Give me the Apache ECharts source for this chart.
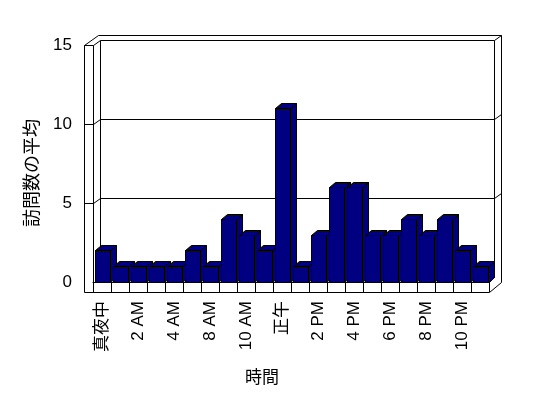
<!DOCTYPE html>
<html>
<head>
<meta charset="utf-8">
<script src="https://cdn.jsdelivr.net/npm/echarts@6/dist/echarts.min.js"></script>
<style>html,body{margin:0;padding:0;background:#fff;}#c{width:548px;height:398px;}</style>
</head>
<body>
<div id="c"></div>
<script>
const categories = ['真夜中','1 AM','2 AM','3 AM','4 AM','6 AM','8 AM','9 AM','10 AM','11 AM','正午','1 PM','2 PM','3 PM','4 PM','5 PM','6 PM','7 PM','8 PM','9 PM','10 PM','11 PM'];
const values = [2,1,1,1,1,2,1,4,3,2,11,1,3,6,6,3,3,4,3,4,2,1];
const yTicks = [0,5,10,15];
const yTitle = '訪問数の平均';
const xTitle = '時間';

const FONT = "'Liberation Sans','Noto Sans CJK JP',sans-serif";
const chart = echarts.init(document.getElementById('c'), null, {renderer:'canvas'});
const barStyle = {fill:'#000080', stroke:'#000', lineWidth:1};
const DX = 6, DY = 5;

chart.setOption({
  animation:false,
  backgroundColor:'#fff',
  grid:{left:93, right:59, top:45, bottom:116},
  xAxis:{
    type:'category', data:categories,
    axisLine:{show:true, lineStyle:{color:'#000', width:1}},
    axisTick:{show:true, interval:0, length:10, lineStyle:{color:'#000'}},
    axisLabel:{interval:1, rotate:90, margin:19, fontSize:17, color:'#000', fontFamily:FONT},
    splitLine:{show:false}
  },
  yAxis:{
    type:'value', min:yTicks[0], max:yTicks[yTicks.length-1], interval:5,
    axisLine:{show:false}, axisTick:{show:false}, splitLine:{show:false},
    axisLabel:{margin:21, fontSize:17, color:'#000', fontFamily:FONT}
  },
  series:[{
    type:'custom', z:5,
    encode:{x:0, y:1},
    data: values.map((v,i)=>[i,v]),
    renderItem:function(params, api){
      const i = api.value(0), v = api.value(1);
      const base = api.coord([i,0]), top = api.coord([i,v]);
      const x0 = Math.round(base[0]-7)+0.5, x1 = x0+15;
      const yb = Math.round(base[1])+0.5, yt = Math.round(top[1])+0.5;
      return {type:'group', children:[
        {type:'polygon', shape:{points:[[x1,yt],[x1+DX,yt-DY],[x1+DX,yb-DY],[x1,yb]]}, style:barStyle},
        {type:'polygon', shape:{points:[[x0,yt],[x0+DX,yt-DY],[x1+DX,yt-DY],[x1,yt]]}, style:barStyle},
        {type:'rect', shape:{x:x0, y:yt, width:15, height:yb-yt}, style:barStyle}
      ]};
    }
  }]
});

// frame / walls
const L = (x1,y1,x2,y2)=>({type:'line', z:0, silent:true,
  shape:{x1:x1+0.5,y1:y1+0.5,x2:x2+0.5,y2:y2+0.5}, style:{stroke:'#000', lineWidth:1}});
const g = [];
const yF = v => Math.round(chart.convertToPixel({yAxisIndex:0}, v));
const xL = 93, xR = 489;
const yTop = yF(15), yBot = yF(0);
const bx0 = xL+7, bx1 = xR+5, oR = bx1+7;
g.push(L(84,yTop,84,yBot+10));
g.push(L(xL,yTop,xL,yBot));
g.push(L(84,yTop,xL,yTop));
g.push(L(84,yTop,98,yTop-10));
g.push(L(xL,yTop,bx0,yTop-5));
g.push(L(bx0,yTop-5,bx0,yBot-5));
g.push(L(98,yTop-10,oR,yTop-10));
g.push(L(bx1,yTop-5,bx1,yBot-5));
g.push(L(oR,yTop-10,oR,yBot));
g.push(L(bx1,yTop-5,oR,yTop-10));
g.push(L(84,yBot+10,xR,yBot+10));
g.push(L(xR,yBot+10,oR,yBot));
g.push(L(xR,yBot,bx1,yBot-5));
yTicks.forEach(v=>{
  const y = yF(v);
  g.push(L(bx0,y-5,bx1,y-5));
  if (v>0 && v<15){
    g.push(L(84,y,xL,y));
    g.push(L(xL,y,bx0,y-5));
    g.push(L(bx1,y-5,oR,y-10));
  }
});
g.push({type:'text', z:10, x:33, y:173, rotation:Math.PI/2,
  style:{text:yTitle, font:"18px "+FONT, fill:'#000', align:'center', verticalAlign:'middle'}});
g.push({type:'text', z:10, x:262, y:378,
  style:{text:xTitle, font:"17px "+FONT, fill:'#000', align:'center', verticalAlign:'middle'}});
chart.setOption({graphic:{elements:g}});
</script>
</body>
</html>
